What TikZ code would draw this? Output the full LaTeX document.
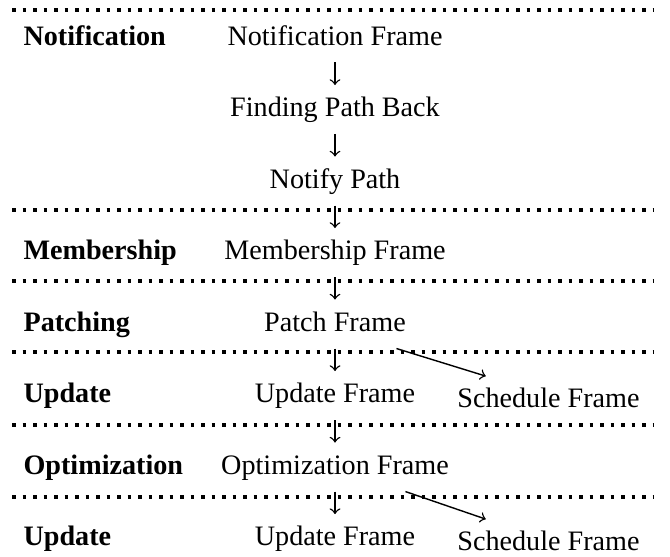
\documentclass[tikz,border=0pt]{standalone}
\usepackage{fontspec}
\setmainfont{Liberation Serif}
\usetikzlibrary{positioning}
\tikzset{
  >=to,
  msg/.style={inner xsep=0pt, inner ysep=4pt, text height=7pt, text depth=2pt},
  stage/.style={msg, font=\bfseries, anchor=west},
  flow/.style={->, line width=0.5pt},
  sep/.style={line width=1.35pt, dash pattern=on 1.35pt off 2.38pt},
}

\begin{document}
\begin{tikzpicture}[x=0.3552pt, y=-0.3552pt, node distance=8pt]
  \useasboundingbox (0,0) rectangle (670,557);
  % nodes
  \node[msg] (nf) at (335,38) {Notification Frame};
  \node[msg, below=of nf] (fp) {Finding Path Back};
  \node[msg, below=of fp] (np) {Notify Path};
  \node[msg, below=of np] (mf) {Membership Frame};
  \node[msg, below=of mf] (pf) {Patch Frame};
  \node[msg, below=of pf] (uf) {Update Frame};
  \node[msg, right=14.6pt of uf, yshift=-1.8pt] (sf) {Schedule Frame};
  \node[msg, below=of uf] (of) {Optimization Frame};
  \node[msg, below=of of] (uf2) {Update Frame};
  \node[msg, right=14.6pt of uf2, yshift=-1.8pt] (sf2) {Schedule Frame};

  % stage labels
  \coordinate (lx) at (23,0);
  \node[stage] at (nf -| lx) {Notification};
  \node[stage] at (mf -| lx) {Membership};
  \node[stage] at (pf -| lx) {Patching};
  \node[stage] at (uf -| lx) {Update};
  \node[stage] at (of -| lx) {Optimization};
  \node[stage] at (uf2 -| lx) {Update};

  % separators
  \foreach \y in {10,210,281,352,425,497}
    \draw[sep] (12,\y) -- (654,\y);

  % connections
  \draw[flow] (nf) -- (fp);
  \draw[flow] (fp) -- (np);
  \draw[flow] (np) -- (mf);
  \draw[flow] (mf) -- (pf);
  \draw[flow] (pf) -- (uf);
  \draw[flow] ([xshift=-3.5pt]pf.south east) -- ([xshift=10.3pt]sf.north west);
  \draw[flow] (uf) -- (of);
  \draw[flow] (of) -- (uf2);
  \draw[flow] ([xshift=-15.6pt]of.south east) -- ([xshift=10.3pt]sf2.north west);
\end{tikzpicture}
\end{document}
